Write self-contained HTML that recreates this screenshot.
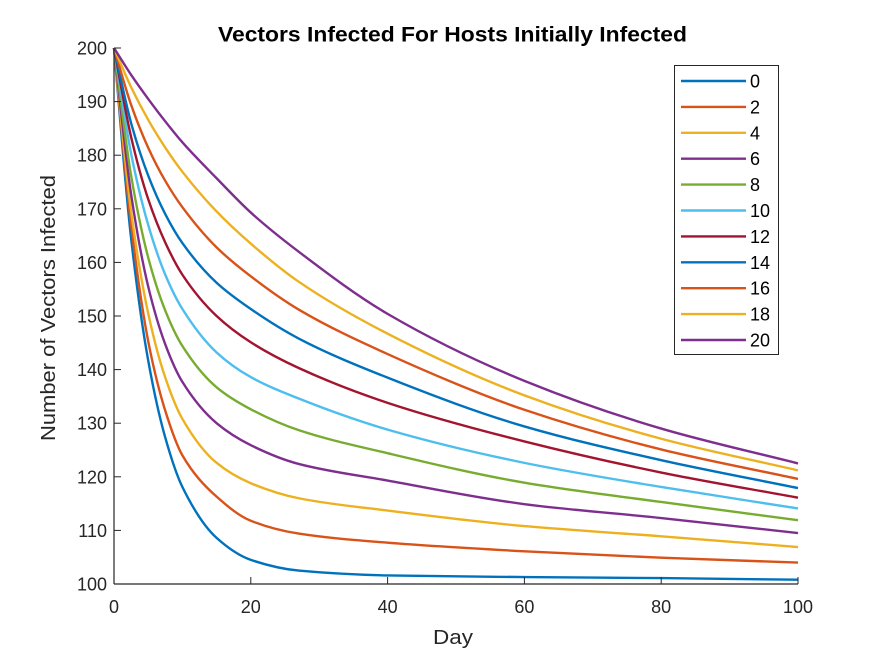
<!DOCTYPE html>
<html><head><meta charset="utf-8"><style>
html,body{margin:0;padding:0;background:#fff;}
svg{display:block;font-family:"Liberation Sans",Arial,sans-serif;}
</style></head><body>
<svg id="chart" width="875" height="656" viewBox="0 0 875 656">
<rect x="0" y="0" width="875" height="656" fill="#fff"/>
<text x="218" y="41.5" font-size="21" font-weight="bold" fill="#000" textLength="469" lengthAdjust="spacingAndGlyphs">Vectors Infected For Hosts Initially Infected</text>
<g id="series"></g>
<g id="axes"></g>
<text x="433" y="644" font-size="20" fill="#262626" textLength="40" lengthAdjust="spacingAndGlyphs">Day</text>
<text transform="translate(55,441) rotate(-90)" font-size="20" fill="#262626" textLength="266" lengthAdjust="spacingAndGlyphs">Number of Vectors Infected</text>
<g id="legend"></g>
</svg>
<script>
const days = [0,2.5,5,7.5,10,15,20,27,40,60,80,100];
const seriesLabels = ["0","2","4","6","8","10","12","14","16","18","20"];
const s0  = [200,164.5,141.7,127.3,118.1,108.6,104.5,102.5,101.6,101.3,101.1,100.8];
const s2  = [200,167,145.3,132.3,124,116.3,111.8,109.4,107.7,106.1,104.9,104];
const s4  = [200,169.5,150.5,138.5,130.8,122.6,118.8,116,113.7,110.8,108.9,106.9];
const s6  = [200,172.7,155.5,144.7,137.7,130,125.9,122.4,119.3,114.9,112.3,109.5];
const s8  = [200,176.2,160.9,151,144.4,136.7,132.6,128.7,124.4,118.9,115.3,111.9];
const s10 = [200,180.3,167,157.7,151.3,143.2,138.6,134.6,128.8,122.6,118.1,114.1];
const s12 = [200,183.4,171.8,163.7,157.7,150,145.1,140.3,133.8,126.6,120.8,116.1];
const s14 = [200,186,176.2,169,163.6,156.2,151.3,145.8,138.5,129.4,123.1,117.9];
const s16 = [200,189.4,181.4,175.2,170.3,162.8,157.4,151.2,142.9,132.5,125.1,119.6];
const s18 = [200,192.7,186.6,181.4,176.9,169.5,163.5,156.4,146.7,135.2,127.1,121.2];
const s20 = [200,195,190.5,186.3,182.4,175.7,169.3,162,150.4,137.9,129,122.5];
const seriesValues = [s0,s2,s4,s6,s8,s10,s12,s14,s16,s18,s20];
const xTicks = [0,20,40,60,80,100];
const yTicks = [100,110,120,130,140,150,160,170,180,190,200];
const colors = ["#0072BD","#D95319","#EDB120","#7E2F8E","#77AC30","#4DBEEE","#A2142F"];

const NS="http://www.w3.org/2000/svg";
const X0=114,X1=798,Y0=584,Y1=48;
function xs(d){return X0+(d-0)/(100-0)*(X1-X0);}
function ys(v){return Y0-(v-100)/(200-100)*(Y0-Y1);}
function mk(tag,attrs,parent){const e=document.createElementNS(NS,tag);for(const k in attrs)e.setAttribute(k,attrs[k]);parent.appendChild(e);return e;}

function monoPath(px,py){
  const n=px.length,dl=[],m=new Array(n);
  for(let i=0;i<n-1;i++)dl.push((py[i+1]-py[i])/(px[i+1]-px[i]));
  m[0]=dl[0];m[n-1]=dl[n-2];
  for(let i=1;i<n-1;i++){
    if(dl[i-1]*dl[i]<=0)m[i]=0;
    else{const h0=px[i]-px[i-1],h1=px[i+1]-px[i];const w1=2*h1+h0,w2=h1+2*h0;m[i]=(w1+w2)/(w1/dl[i-1]+w2/dl[i]);}
  }
  let d="M"+px[0]+","+py[0];
  for(let i=0;i<n-1;i++){
    const h=px[i+1]-px[i];
    d+=" C"+(px[i]+h/3)+","+(py[i]+m[i]*h/3)+" "+(px[i+1]-h/3)+","+(py[i+1]-m[i+1]*h/3)+" "+px[i+1]+","+py[i+1];
  }
  return d;
}

const sg=document.getElementById('series');
seriesValues.forEach((vals,i)=>{
  const px=days.map(d=>xs(d));
  const py=vals.map(v=>ys(v));
  const p=mk('path',{d:monoPath(px,py),fill:'none',stroke:colors[i%colors.length],'stroke-width':2.4},sg);
  
  
});

const ax=document.getElementById('axes');
const xl=mk('line',{x1:X0,y1:Y0,x2:X1,y2:Y0,stroke:'#262626','stroke-width':1.2},ax);


const yl=mk('line',{x1:X0,y1:Y0,x2:X0,y2:Y1,stroke:'#262626','stroke-width':1.2},ax);


xTicks.forEach(t=>{
  const x=xs(t);
  const tk=mk('line',{x1:x,y1:Y0,x2:x,y2:Y0-7,stroke:'#262626','stroke-width':1},ax);
  
  
  const tx=mk('text',{x:x,y:613,'text-anchor':'middle','font-size':18,fill:'#262626'},ax);
  tx.textContent=t;
  
  
});
yTicks.forEach(t=>{
  const y=ys(t);
  const tk=mk('line',{x1:X0,y1:y,x2:X0+7,y2:y,stroke:'#262626','stroke-width':1},ax);
  
  
  const tx=mk('text',{x:X0-7,y:y+6.5,'text-anchor':'end','font-size':18,fill:'#262626'},ax);
  tx.textContent=t;
  
  
});

const lg=document.getElementById('legend');
const box=mk('rect',{x:674.5,y:65.5,width:104,height:289,fill:'#fff',stroke:'#262626','stroke-width':1},lg);


seriesLabels.forEach((lab,i)=>{
  const y=81+i*25.9;
  const g=mk('g',{},lg);
  
  
  mk('line',{x1:681,y1:y,x2:746,y2:y,stroke:colors[i%colors.length],'stroke-width':2.4},g);
  const tx=mk('text',{x:750,y:y+6.5,'font-size':18,fill:'#000'},g);
  tx.textContent=lab;
});
</script>
</body></html>
